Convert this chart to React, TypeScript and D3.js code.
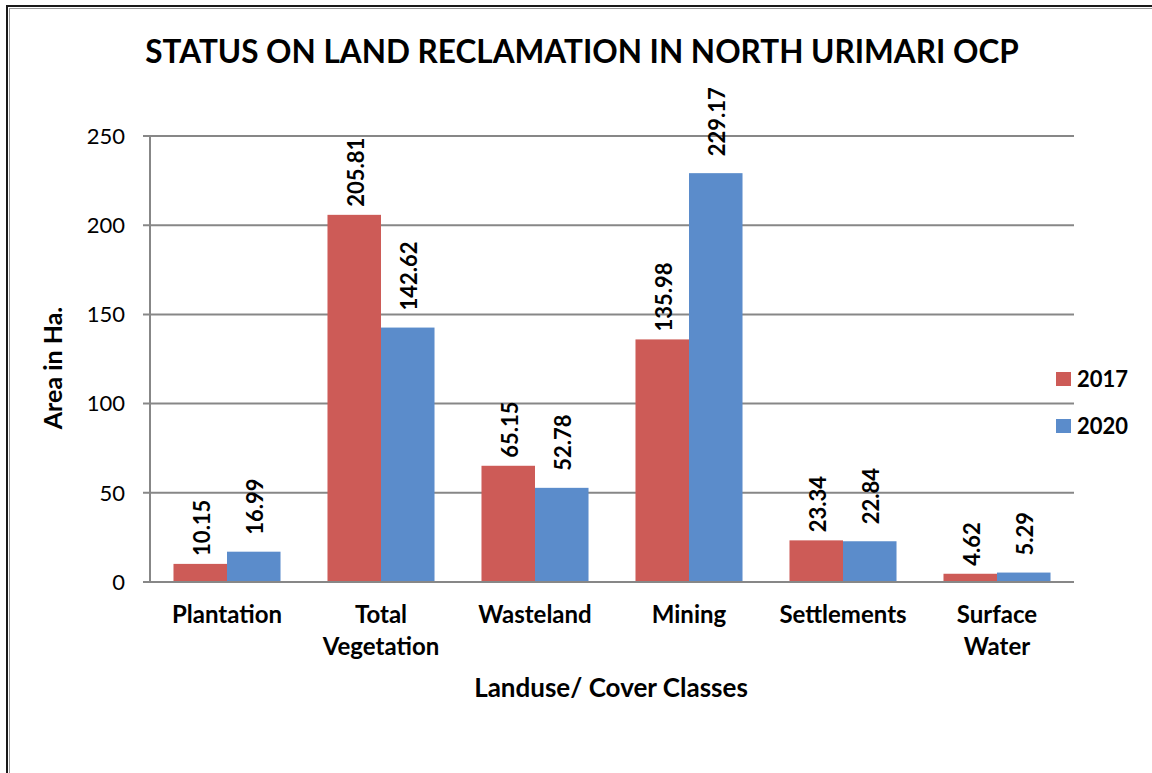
import React from "react";
import * as d3 from "d3";

const categories: string[][] = [
  ["Plantation"],
  ["Total", "Vegetation"],
  ["Wasteland"],
  ["Mining"],
  ["Settlements"],
  ["Surface", "Water"],
];
const seriesNames = ["2017", "2020"];
const values2017 = [10.15, 205.81, 65.15, 135.98, 23.34, 4.62];
const values2020 = [16.99, 142.62, 52.78, 229.17, 22.84, 5.29];
const yTicks = [0, 50, 100, 150, 200, 250];

const seriesValues = [values2017, values2020];
const colors = ["#CD5B57", "#5B8CCB"];
const labelGap = [8, 17];
const FONT = "Lato, 'Open Sans', sans-serif";

export default function App() {
  const W = 1152;
  const H = 773;
  const plotLeft = 150;
  const plotRight = 1074;
  const y = d3.scaleLinear().domain([0, 250]).range([582, 136]);
  const catKeys = categories.map((c) => c.join(" "));
  const x0 = d3.scaleBand<string>().domain(catKeys).range([plotLeft, plotRight]).padding(0);
  const groupW = x0.bandwidth() * 0.695;
  const x1 = d3
    .scaleBand<string>()
    .domain(seriesNames)
    .range([(x0.bandwidth() - groupW) / 2, (x0.bandwidth() + groupW) / 2])
    .padding(0);

  return (
    <svg
      width={W}
      height={H}
      style={{ position: "absolute", left: 0, top: 0, background: "#fff" }}
      fontFamily={FONT}
    >
      <rect x={0} y={0} width={W} height={H} fill="#fff" />
      {/* frame */}
      <rect x={7} y={6} width={1300} height={900} fill="none" stroke="#1a1a1a" strokeWidth={2} />
      <rect x={9.5} y={8.5} width={1300} height={900} fill="none" stroke="#9a9a9a" strokeWidth={1} />

      {/* title */}
      <text x={582} y={63} textAnchor="middle" fontSize={31.5} fontWeight="bold" fill="#000">
        STATUS ON LAND RECLAMATION IN NORTH URIMARI OCP
      </text>

      {/* gridlines & y ticks */}
      {yTicks.map((t) => (
        <g key={t}>
          <line x1={143} x2={plotRight} y1={y(t)} y2={y(t)} stroke="#878787" strokeWidth={2} />
          <text x={125} y={y(t)} dy="0.35em" textAnchor="end" fontSize={22} fill="#000">
            {t}
          </text>
        </g>
      ))}
      <line x1={plotLeft} x2={plotLeft} y1={y(250)} y2={y(0)} stroke="#878787" strokeWidth={2} />

      {/* bars */}
      {catKeys.map((k, i) => (
        <g key={k} transform={`translate(${x0(k)},0)`}>
          {seriesNames.map((s, j) => {
            const v = seriesValues[j][i];
            const bx = x1(s)!;
            const bw = x1.bandwidth();
            return (
              <g key={s}>
                <rect x={bx} y={y(v)} width={bw} height={y(0) - y(v)} fill={colors[j]} />
                <text
                  transform={`translate(${bx + bw / 2 + 2},${y(v) - labelGap[j]}) rotate(-90)`}
                  dy="0.35em"
                  textAnchor="start"
                  fontSize={22}
                  fontWeight="bold"
                  fill="#000"
                >
                  {v.toFixed(2)}
                </text>
              </g>
            );
          })}
        </g>
      ))}
      <line x1={143} x2={plotRight} y1={y(0)} y2={y(0)} stroke="#878787" strokeWidth={2} />

      {/* x labels */}
      {categories.map((lines, i) => (
        <text
          key={i}
          x={x0(catKeys[i])! + x0.bandwidth() / 2}
          y={623}
          textAnchor="middle"
          fontSize={24}
          fontWeight="bold"
          fill="#000"
        >
          {lines.map((l, li) => (
            <tspan key={li} x={x0(catKeys[i])! + x0.bandwidth() / 2} dy={li === 0 ? 0 : 32}>
              {l}
            </tspan>
          ))}
        </text>
      ))}

      {/* axis titles */}
      <text x={611} y={697} textAnchor="middle" fontSize={26} fontWeight="bold" fill="#000">
        Landuse/ Cover Classes
      </text>
      <text
        transform={`translate(62,368) rotate(-90)`}
        textAnchor="middle"
        fontSize={25}
        fontWeight="bold"
        fill="#000"
      >
        Area in Ha.
      </text>

      {/* legend */}
      {seriesNames.map((s, j) => (
        <g key={s} transform={`translate(1056,${372 + j * 47})`}>
          <rect x={0} y={0} width={15} height={14} fill={colors[j]} />
          <text x={21} y={7} dy="0.36em" fontSize={22} fontWeight="bold" fill="#000">
            {s}
          </text>
        </g>
      ))}
    </svg>
  );
}
